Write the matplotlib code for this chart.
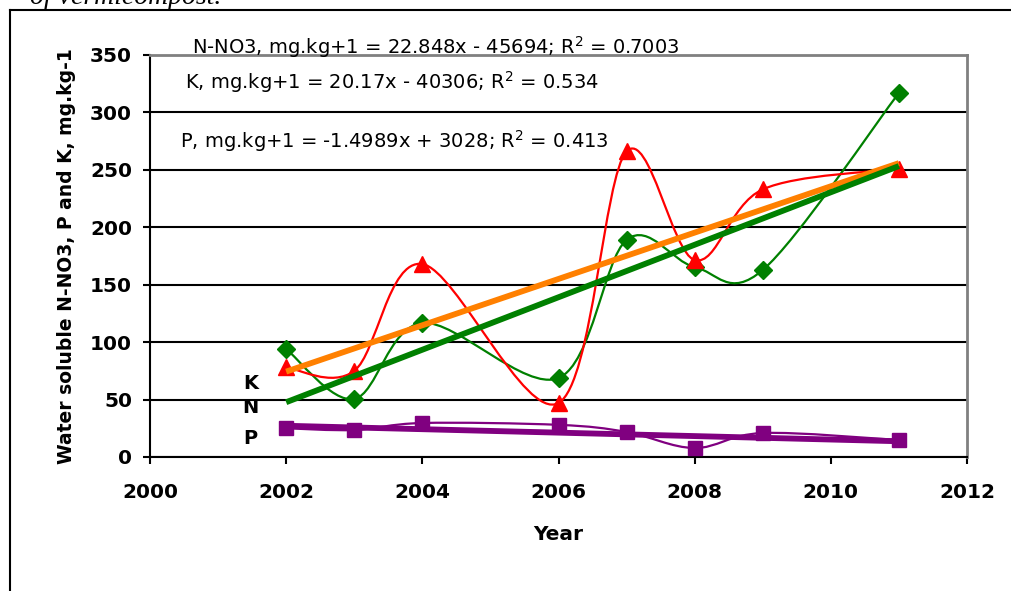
import matplotlib
matplotlib.use("Agg")
import matplotlib.pyplot as plt
from matplotlib.path import Path
from matplotlib.patches import PathPatch
from matplotlib.lines import Line2D

# Yearly water soluble nutrients in vermicompost, mg/kg
years = [2002, 2003, 2004, 2006, 2007, 2008, 2009, 2011]
n_no3 = [94, 50.5, 116.7, 68.8, 189, 165.4, 162.8, 317]
k_vals = [78, 75, 168, 47, 266, 171.5, 233, 251]
p_vals = [25, 23.5, 29.6, 28, 21.8, 7.8, 20.9, 14.8]

# Linear trends (slope, intercept) as printed on the chart
n_fit = (22.848, -45694)
k_fit = (20.17, -40306)
p_fit = (-1.4989, 3028)

plt.rcParams['font.family'] = ['DejaVu Sans']


def smooth_path(xs, ys):
    # Bezier curve through every point, like a spreadsheet "smoothed line"
    pts = list(zip(xs, ys))
    verts = [pts[0]]
    codes = [Path.MOVETO]
    n = len(pts)
    for i in range(n - 1):
        p0 = pts[i - 1] if i > 0 else pts[i]
        p1 = pts[i]
        p2 = pts[i + 1]
        p3 = pts[i + 2] if i + 2 < n else pts[i + 1]
        c1 = (p1[0] + (p2[0] - p0[0]) / 6, p1[1] + (p2[1] - p0[1]) / 6)
        c2 = (p2[0] - (p3[0] - p1[0]) / 6, p2[1] - (p3[1] - p1[1]) / 6)
        verts += [c1, c2, p2]
        codes += [Path.CURVE4] * 3
    return Path(verts, codes)


fig = plt.figure(figsize=(10.12, 5.91), dpi=100)
ax = fig.add_axes([150 / 1012, (591 - 457) / 591, (967 - 150) / 1012, (457 - 55) / 591])

ax.set_xlim(2000, 2012)
ax.set_ylim(0, 350)
ax.set_xticks(range(2000, 2013, 2))
ax.set_yticks(range(0, 351, 50))
ax.grid(axis='y', color='black', linewidth=1.5)
ax.set_axisbelow(True)

series = [
    (n_no3, '#008000', 'D', 9),
    (k_vals, '#ff0000', '^', 11),
    (p_vals, '#800080', 's', 10),
]
for vals, col, mk, ms in series:
    ax.add_patch(PathPatch(smooth_path(years, vals), fill=False,
                           edgecolor=col, linewidth=1.6, zorder=3))
    ax.plot(years, vals, linestyle='none', marker=mk, markersize=ms,
            color=col, markeredgecolor=col, zorder=4)

# Trend lines drawn from their equations
x_ends = [years[0], years[-1]]
for (a, b), col in [(k_fit, '#ff8000'), (n_fit, '#008000'), (p_fit, '#800080')]:
    ax.plot(x_ends, [a * x + b for x in x_ends], color=col, linewidth=4.2,
            solid_capstyle='butt', zorder=5)

eq_kw = dict(fontsize=14, va='center', ha='left', zorder=6)
ax.text(2000.62, 357, 'N-NO3, mg.kg+1 = 22.848x - 45694; R$^2$ = 0.7003',
        clip_on=False, **eq_kw)
ax.text(2000.51, 326.5, 'K, mg.kg+1 = 20.17x - 40306; R$^2$ = 0.534',
        bbox=dict(facecolor='white', edgecolor='none', pad=1), **eq_kw)
ax.text(2000.44, 275, 'P, mg.kg+1 = -1.4989x + 3028; R$^2$ = 0.413',
        bbox=dict(facecolor='white', edgecolor='none', pad=1), **eq_kw)

for lbl, yv in [('K', 64), ('N', 43.5), ('P', 16.5)]:
    ax.text(2001.48, yv, lbl, fontsize=14, fontweight='bold',
            ha='center', va='center')

for side in ('top', 'right'):
    ax.spines[side].set_color('#808080')
    ax.spines[side].set_linewidth(2)
for side in ('left', 'bottom'):
    ax.spines[side].set_color('black')
    ax.spines[side].set_linewidth(1.5)

ax.tick_params(direction='out', length=5, width=1.5, labelsize=14.5)
for t in ax.get_xticklabels() + ax.get_yticklabels():
    t.set_fontweight('bold')
ax.tick_params(axis='x', pad=14)
ax.tick_params(axis='y', pad=8)

ax.set_xlabel('Year', fontsize=14.5, fontweight='bold', labelpad=16)
ax.set_ylabel('Water soluble N-NO3, P and K, mg.kg-1', fontsize=13.5,
              fontweight='bold', labelpad=10)

# Page frame and the caption cut off above it
fig.add_artist(Line2D([10 / 1012, 10 / 1012], [0, 1 - 10 / 591],
                      transform=fig.transFigure, color='black', linewidth=1.5))
fig.add_artist(Line2D([10 / 1012, 1], [1 - 10 / 591, 1 - 10 / 591],
                      transform=fig.transFigure, color='black', linewidth=1.5))
fig.text(30 / 1012, 1 - 4 / 591, 'of vermicompost.', fontsize=20,
         family='Liberation Serif', style='italic', va='baseline')

fig.savefig('out.png', dpi=100)
